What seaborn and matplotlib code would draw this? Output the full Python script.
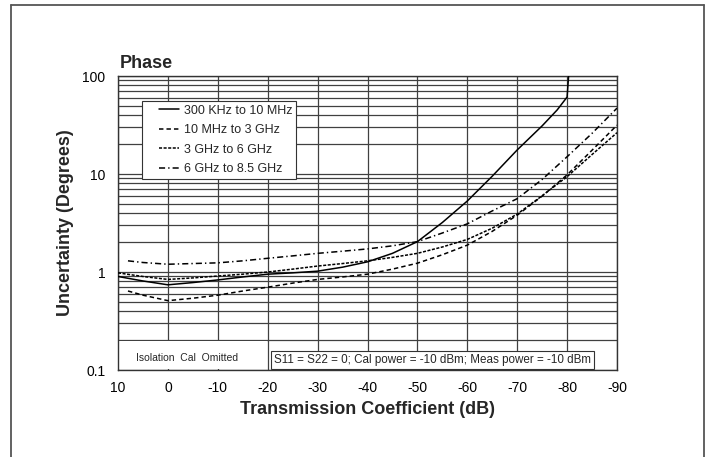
import numpy as np
import pandas as pd
import matplotlib
matplotlib.use("Agg")
import matplotlib.pyplot as plt
from matplotlib.lines import Line2D
from matplotlib.patches import Rectangle
from matplotlib.legend_handler import HandlerLine2D
from matplotlib.ticker import FixedLocator, FixedFormatter, LogLocator, NullFormatter
import seaborn as sns

# ---- data ----
x_solid = [10, 5, 0, -5, -10, -15, -20, -25, -30, -35, -40, -45, -50, -55, -60, -65, -70, -75, -78, -80, -80.3]
y_solid = [0.90, 0.81, 0.74, 0.78, 0.83, 0.89, 0.95, 0.98, 1.02, 1.12, 1.27, 1.55, 2.04, 3.2, 5.3, 9.5, 17.6, 31, 45, 61, 100]

x_long = [8, 5, 0, -5, -10, -15, -20, -25, -30, -35, -40, -45, -50, -55, -60, -65, -70, -75, -80, -85, -90]
y_long = [0.64, 0.58, 0.51, 0.54, 0.58, 0.64, 0.70, 0.77, 0.84, 0.89, 0.95, 1.07, 1.23, 1.5, 1.88, 2.6, 3.8, 5.95, 9.8, 17.5, 31.5]

x_short = [10, 5, 0, -5, -10, -15, -20, -25, -30, -35, -40, -45, -50, -55, -60, -65, -70, -75, -80, -85, -90]
y_short = [0.98, 0.90, 0.84, 0.87, 0.91, 0.95, 1.0, 1.07, 1.15, 1.22, 1.30, 1.41, 1.55, 1.8, 2.15, 2.8, 3.9, 6.0, 9.4, 15.8, 26.4]

x_dd = [8, 5, 0, -5, -10, -15, -20, -25, -30, -35, -40, -45, -50, -55, -60, -65, -70, -75, -80, -85, -90]
y_dd = [1.30, 1.25, 1.20, 1.22, 1.24, 1.30, 1.38, 1.46, 1.55, 1.63, 1.72, 1.85, 2.04, 2.5, 3.1, 4.2, 5.6, 8.8, 15, 26, 47]

labels = ["300 KHz to 10 MHz", "10 MHz to 3 GHz", "3 GHz to 6 GHz", "6 GHz to 8.5 GHz"]
x_ticks = [10, 0, -10, -20, -30, -40, -50, -60, -70, -80, -90]
x_ticklabels = ["10", "0", "-10", "-20", "-30", "-40", "-50", "-60", "-70", "-80", "-90"]
y_ticks = [0.1, 1, 10, 100]
y_ticklabels = ["0.1", "1", "10", "100"]

# ---- style ----
sns.set_theme(style="white")
plt.rcParams["font.family"] = ["Liberation Sans", "DejaVu Sans"]
plt.rcParams["axes.unicode_minus"] = False

fig = plt.figure(figsize=(7.11, 4.57), dpi=100)
ax = fig.add_axes([118 / 711, 1 - 370 / 457, 499 / 711, 294 / 457])

styles = [
    "-",
    (0, (2.9, 2.0)),
    (0, (2.0, 1.0)),
    (0, (4.0, 2.0, 0.9, 2.0)),
]
series = [(x_solid, y_solid), (x_long, y_long), (x_short, y_short), (x_dd, y_dd)]
for (xs, ys), lab, ls in zip(series, labels, styles):
    df = pd.DataFrame({"x": xs, "y": ys})
    sns.lineplot(data=df, x="x", y="y", ax=ax, color="black", linewidth=1.1,
                 linestyle=ls, label=lab, sort=False, estimator=None, zorder=4)

ax.set_yscale("log")
ax.set_xlim(10, -90)
ax.set_ylim(0.1, 100)

ax.xaxis.set_major_locator(FixedLocator(x_ticks))
ax.xaxis.set_major_formatter(FixedFormatter(x_ticklabels))
ax.yaxis.set_major_locator(FixedLocator(y_ticks))
ax.yaxis.set_major_formatter(FixedFormatter(y_ticklabels))
ax.yaxis.set_minor_locator(LogLocator(base=10, subs=np.arange(2, 10)))
ax.yaxis.set_minor_formatter(NullFormatter())

ax.grid(True, which="major", axis="both", color="#404040", linewidth=0.9)
ax.grid(True, which="minor", axis="y", color="#404040", linewidth=0.9)
ax.set_axisbelow(True)
ax.tick_params(axis="both", which="both", length=0, labelsize=10, colors="black", pad=9)
ax.tick_params(axis="x", pad=8)
for s in ax.spines.values():
    s.set_color("#333333")
    s.set_linewidth(1.0)

ax.set_xlabel("Transmission Coefficient (dB)", fontsize=13, fontweight="bold", labelpad=4)
ax.set_ylabel("Uncertainty (Degrees)", fontsize=13, fontweight="bold", labelpad=6)

ax.text(0.004, 1.027, "Phase", transform=ax.transAxes, fontsize=13, fontweight="bold",
        va="baseline", ha="left")

# white area for bottom-left note
ax.add_patch(Rectangle((0.002, 0.004), 0.296, 0.093, transform=ax.transAxes,
                       facecolor="white", edgecolor="none", zorder=2))
ax.text(0.139, 0.040, "Isolation  Cal  Omitted", transform=ax.transAxes, fontsize=7.5,
        ha="center", va="center", zorder=5)
ax.text(0.631, 0.034, "S11 = S22 = 0; Cal power = -10 dBm; Meas power = -10 dBm",
        transform=ax.transAxes, fontsize=8.4, ha="center", va="center", zorder=5,
        bbox=dict(boxstyle="square,pad=0.25", facecolor="white", edgecolor="#333333", linewidth=0.8))

leg = ax.legend(loc="upper left", bbox_to_anchor=(0.048, 0.915), borderaxespad=0,
                fontsize=9, frameon=True, fancybox=False, handlelength=2.65,
                handletextpad=0.4, labelspacing=0.6, borderpad=0.3,
                handler_map={Line2D: HandlerLine2D(xpad=1.05)})
leg.get_frame().set_edgecolor("#333333")
leg.get_frame().set_linewidth(0.8)
leg.get_frame().set_facecolor("white")
leg.get_frame().set_alpha(1)
leg.set_zorder(6)

# outer frame (open at bottom)
fx0, fx1, fy1 = 11 / 711, 704 / 711, 1 - 5 / 457
for xs, ys in [([fx0, fx0], [0, fy1]), ([fx0, fx1], [fy1, fy1]), ([fx1, fx1], [fy1, 0])]:
    fig.add_artist(Line2D(xs, ys, transform=fig.transFigure, color="#555555", linewidth=1.3))

fig.savefig("out.png", dpi=100)
